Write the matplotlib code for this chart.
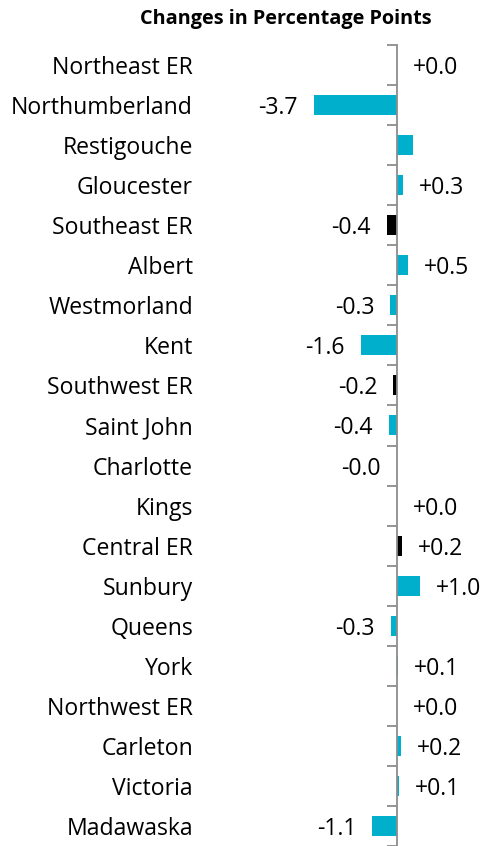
import matplotlib
matplotlib.use('Agg')
import matplotlib.pyplot as plt
import matplotlib.transforms as mtransforms

plt.rcParams['font.family'] = ['Open Sans', 'DejaVu Sans']

# data (top to bottom)
regions = ['Northeast ER', 'Northumberland', 'Restigouche', 'Gloucester', 'Southeast ER',
           'Albert', 'Westmorland', 'Kent', 'Southwest ER', 'Saint John', 'Charlotte',
           'Kings', 'Central ER', 'Sunbury', 'Queens', 'York', 'Northwest ER',
           'Carleton', 'Victoria', 'Madawaska']
changes = [0.0, -3.7, 0.7, 0.27, -0.44, 0.47, -0.3, -1.6, -0.16, -0.36, -0.02,
           0.0, 0.21, 1.0, -0.28, 0.06, 0.0, 0.16, 0.1, -1.1]
is_er = [True, False, False, False, True, False, False, False, True, False, False,
         False, True, False, False, False, True, False, False, False]
value_labels = ['+0.0', '-3.7', '', '+0.3', '-0.4', '+0.5', '-0.3', '-1.6', '-0.2', '-0.4',
                '-0.0', '+0.0', '+0.2', '+1.0', '-0.3', '+0.1', '+0.0', '+0.2', '+0.1', '-1.1']
title = 'Changes in Percentage Points'

cyan = '#00AFCB'
grey = '#8C8C8C'
colors = ['black' if e else cyan for e in is_er]

fig = plt.figure(figsize=(4.85, 8.46), dpi=100)
W, H = 485, 846
ax = fig.add_axes([200 / W, 0, 285 / W, 801 / H])

ypos = list(range(len(regions)))
ax.barh(ypos, changes, height=0.5, color=colors)

scale = 22.5  # px per percentage point
ax.set_xlim(-197 / scale, 88 / scale)
ax.set_ylim(-0.5 + 801 / 40.3, -0.5)

for s in ['top', 'right', 'bottom']:
    ax.spines[s].set_visible(False)
ax.spines['left'].set_position(('data', 0))
ax.spines['left'].set_color(grey)
ax.spines['left'].set_linewidth(1.3)
ax.set_xticks([])
ax.set_yticks([i - 0.5 for i in range(len(regions) + 1)])
ax.set_yticklabels([])
ax.tick_params(axis='y', length=7, width=1.3, color=grey, direction='out')

fs = 16.6
trans = mtransforms.blended_transform_factory(ax.transAxes, ax.transData)
for i, name in enumerate(regions):
    ax.text(-7 / 285, i, name, transform=trans, ha='right', va='center_baseline', fontsize=fs)

off = 16 / scale
for i, (v, lab) in enumerate(zip(changes, value_labels)):
    if not lab:
        continue
    if lab.startswith('-'):
        ax.text(min(v, 0) - off, i, lab, ha='right', va='center_baseline', fontsize=fs)
    else:
        ax.text(max(v, 0) + off, i, lab, ha='left', va='center_baseline', fontsize=fs)

fig.text(286 / W, 1 - 19 / H, title, ha='center', va='center', fontsize=14.3, fontweight='bold')

fig.savefig('out.png', dpi=100)
